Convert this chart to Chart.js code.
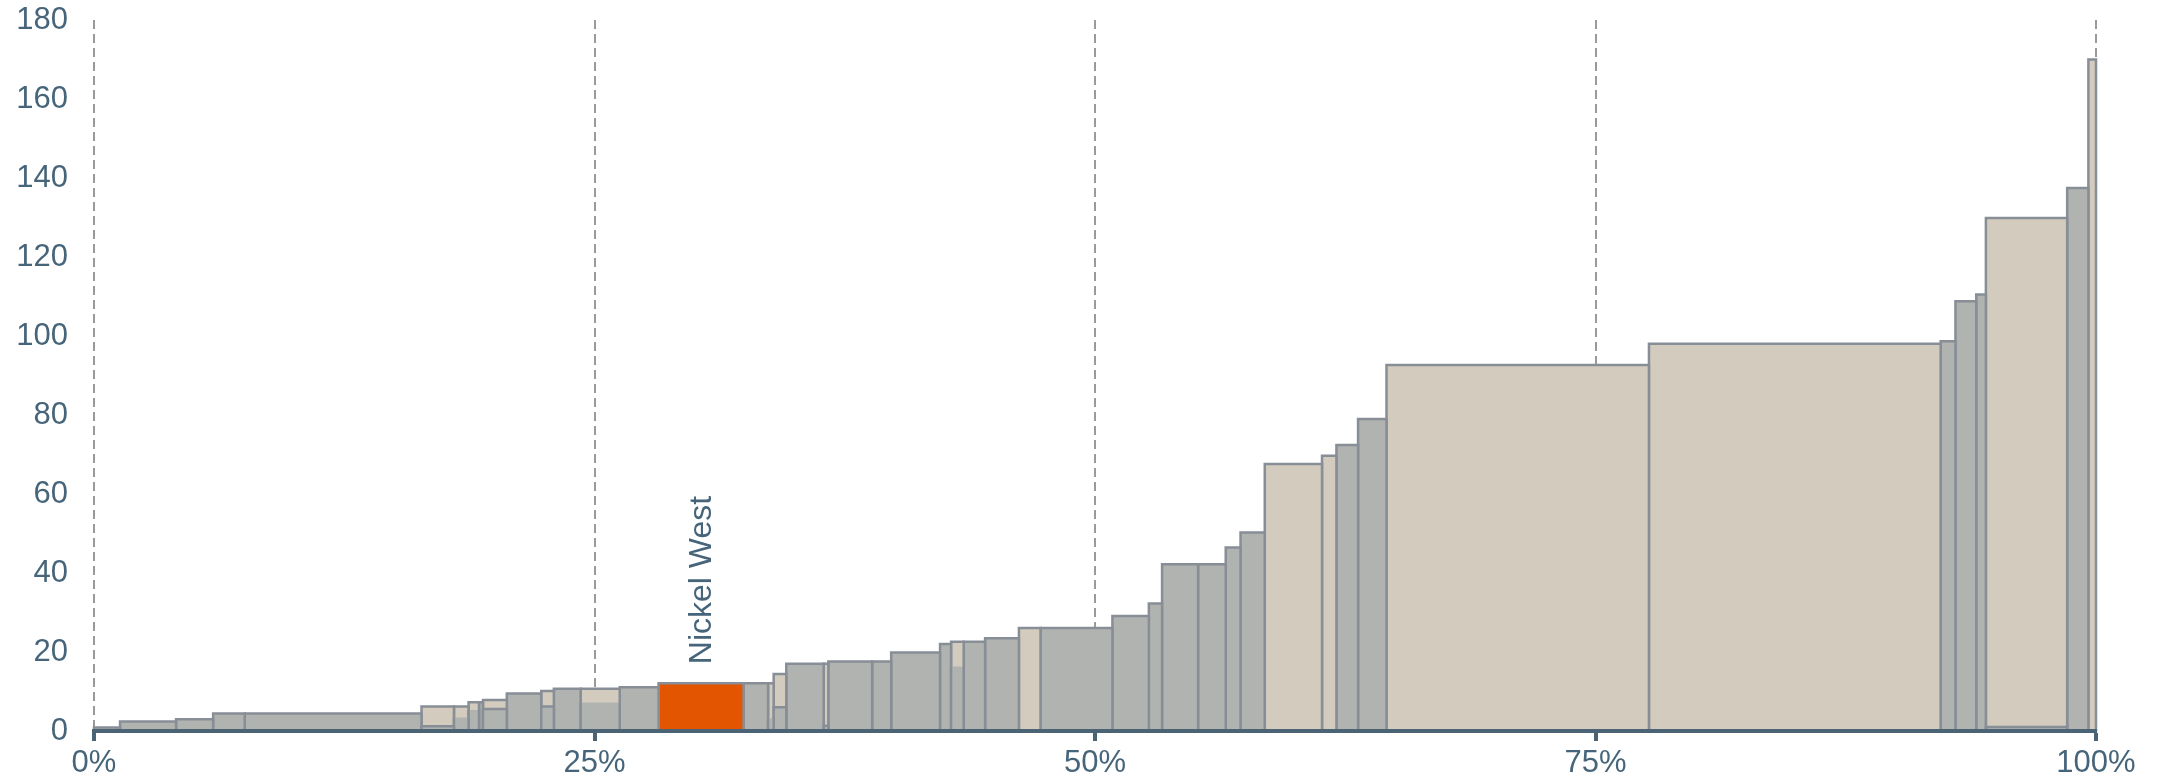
<!DOCTYPE html>
<html>
<head>
<meta charset="utf-8">
<script src="https://cdn.jsdelivr.net/npm/chart.js@4/dist/chart.umd.min.js"></script>
<style>
  html, body { margin: 0; padding: 0; background: #ffffff; }
  #wrap { width: 2165px; height: 779px; }
</style>
</head>
<body>
<div id="wrap"><canvas id="chart" width="2165" height="779"></canvas></div>
<script>
// bar boundaries along the x axis (% of total capacity)
const edges = [0, 1.3, 4.1, 5.95, 7.53, 16.36, 17.98, 18.71, 19.23, 19.43, 20.62, 22.34, 22.97, 24.31,
  26.26, 28.2, 32.45, 33.67, 33.95, 34.58, 36.45, 36.68, 38.87, 39.82, 42.26, 42.81, 43.44, 44.51,
  46.2, 47.28, 50.87, 52.69, 53.35, 55.15, 56.53, 57.27, 58.48, 61.34, 62.06, 63.14, 64.56, 77.67,
  92.24, 92.98, 94.02, 94.5, 98.56, 99.62, 100];

// bar heights
const barValue = [0.9, 2.4, 3.0, 4.4, 4.4, 6.2, 6.2, 7.3, 7.3, 7.85, 9.5, 10.1, 10.7, 10.7, 11.1,
  12.1, 12.1, 12.1, 14.4, 17.0, 17.0, 17.6, 17.6, 19.85, 22.0, 22.6, 22.6, 23.5, 26.1, 26.1, 29.1,
  32.3, 42.2, 42.2, 46.45, 50.25, 67.6, 69.7, 72.4, 79.0, 92.65, 98.05, 98.7, 108.8, 110.5, 129.9,
  137.5, 170];

// g = grey, b = beige, o = highlighted
const barKind = ['g', 'g', 'g', 'g', 'g', 'b', 'b', 'b', 'g', 'b', 'g', 'b', 'g', 'b', 'g', 'o',
  'g', 'b', 'b', 'g', 'b', 'g', 'g', 'g', 'g', 'b', 'g', 'g', 'b', 'g', 'g', 'g', 'g', 'g', 'g', 'g',
  'b', 'b', 'g', 'g', 'b', 'b', 'g', 'g', 'g', 'b', 'g', 'b'];

// lower grey part drawn inside some beige bars
const innerParent = [5, 6, 7, 9, 11, 13, 17, 18, 20, 25, 45];
const innerValue = [1.2, 3.4, 5.3, 5.6, 6.2, 7.2, 3.2, 6.0, 1.3, 16.3, 1.0];
const innerTopLine = [true, false, false, true, true, false, false, true, true, false, true];

// labelled bar
const labelBar = [15];
const labelText = ['Nickel West'];

const xTicks = [0, 25, 50, 75, 100];

const TEXT = '#47657a';
const AXIS = '#4a6476';
const EDGE = '#878e96';
const FILLS = { g: '#b1b3b0', b: '#d3cbbd', o: '#e35500' };
const FONT = '"Liberation Sans", Arial, sans-serif';

function rect(x0, x1, v, fill, topLine, order) {
    const ds = {
        data: [{ x: x0, y: 0 }, { x: x0, y: v }, { x: x1, y: v }, { x: x1, y: 0 }],
        borderColor: EDGE,
        borderWidth: 2.5,
        backgroundColor: fill,
        fill: 'origin',
        pointRadius: 0,
        pointHoverRadius: 0,
        tension: 0,
        clip: false,
        order: order
    };
    if (!topLine) {
        // no line on top of the inner part
        ds.segment = { borderColor: c => c.p0DataIndex === 1 ? 'rgba(0,0,0,0)' : undefined };
    }
    return ds;
}

const datasets = [];
barValue.forEach((v, i) => {
    datasets.push(rect(edges[i], edges[i + 1], v, FILLS[barKind[i]], true, 1));
});
innerParent.forEach((p, k) => {
    datasets.push(rect(edges[p], edges[p + 1], innerValue[k], FILLS.g, innerTopLine[k], 0));
});

// rotated label above a bar
const barLabels = {
    id: 'barLabels',
    afterDatasetsDraw(chart) {
        const { ctx, scales: { x, y } } = chart;
        labelBar.forEach((bi, k) => {
            const cx = x.getPixelForValue((edges[bi] + edges[bi + 1]) / 2);
            const top = y.getPixelForValue(barValue[bi]);
            ctx.save();
            ctx.translate(cx + 1, top - 19);
            ctx.rotate(-Math.PI / 2);
            ctx.font = '32px ' + FONT;
            ctx.fillStyle = TEXT;
            ctx.textAlign = 'left';
            ctx.textBaseline = 'middle';
            ctx.fillText(labelText[k], 0, 0);
            ctx.restore();
        });
    }
};

new Chart(document.getElementById('chart'), {
    type: 'line',
    data: { datasets: datasets },
    options: {
        responsive: false,
        devicePixelRatio: 1,
        animation: false,
        events: [],
        layout: { padding: { left: 0, right: 69, top: 20, bottom: 0 } },
        plugins: { legend: { display: false }, tooltip: { enabled: false } },
        scales: {
            x: {
                type: 'linear',
                min: 0,
                max: 100,
                afterBuildTicks: s => { s.ticks = xTicks.map(v => ({ value: v })); },
                afterFit: s => { s.height = 48; },
                ticks: {
                    callback: v => v + '%',
                    font: { size: 31, family: FONT },
                    color: TEXT,
                    padding: 4,
                    maxRotation: 0,
                    autoSkip: false
                },
                grid: {
                    color: '#9a9a9a',
                    lineWidth: 2,
                    tickColor: AXIS,
                    tickWidth: 4,
                    tickLength: 10
                },
                border: { color: AXIS, width: 4, dash: [9, 5], z: 1 }
            },
            y: {
                min: 0,
                max: 180,
                afterFit: s => {
                    s.width = 94;
                    s.paddingTop = 0;
                    s.paddingBottom = 0;
                },
                ticks: {
                    stepSize: 20,
                    font: { size: 31, family: FONT },
                    color: TEXT,
                    padding: 18
                },
                grid: { display: false },
                border: { display: false }
            }
        }
    },
    plugins: [barLabels]
});
</script>
</body>
</html>
